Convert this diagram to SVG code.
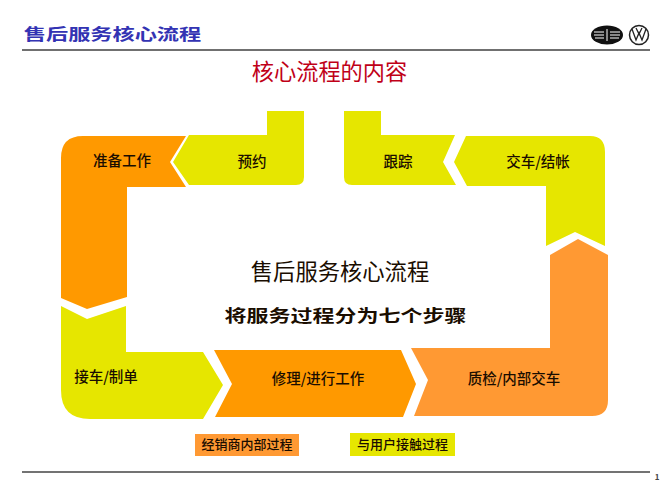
<svg xmlns="http://www.w3.org/2000/svg" width="667" height="500" viewBox="0 0 667 500">
<style>
text{font-family:"Noto Sans CJK SC","Liberation Sans",sans-serif;text-anchor:middle;fill:#1a0d00}
.lbl{font-size:14.500px;font-weight:500}
.leg{font-size:13px;font-weight:500}
.y{fill:#e6e600}.o{fill:#ff9900}.l{fill:#ff9933}
.logo{stroke:#fff;stroke-width:1;fill:none}
</style>
<rect width="667" height="500" fill="#fff"/>
<g id="header">
<text transform="translate(112.500 40) scale(1 .72)" font-size="22.200" font-weight="700" style="fill:#3333b3">售后服务核心流程</text>
<line x1="22" y1="50" x2="650" y2="50" stroke="#707070" stroke-width="2"/>
<ellipse cx="607" cy="35" rx="16" ry="9.500" fill="#111"/>
<path class="logo" d="M594 32h10M594 35h10M595 38h9M610 32h10M610 35h10M610 38h9M607 29v12"/>
<circle cx="639" cy="35" r="9.500" fill="#fff" stroke="#222" stroke-width="1.500"/>
<path d="M632 29l4 11 3-7 3 7 4-11M636 28l3 6 3-6" fill="none" stroke="#222" stroke-width="1.300"/>
<text x="329.500" y="80" font-size="22.200" style="fill:#c00018">核心流程的内容</text>
</g>
<g id="connectors"/>
<g id="step-prep">
<path class="o" d="M186 136H83Q61 136 61 158V298L87 309L127 297V187L186 187L170 162Z"/>
<text class="lbl" x="122" y="166">准备工作</text>
</g>
<g id="step-booking">
<path class="y" d="M267 111H304V177Q304 185 296 185H189L173 162L189 135H267Z"/>
<text class="lbl" x="252" y="167">预约</text>
</g>
<g id="step-followup">
<path class="y" d="M344 111H381V135H455L443 162L456 185H352Q344 185 344 177Z"/>
<text class="lbl" x="398" y="167">跟踪</text>
</g>
<g id="step-delivery">
<path class="y" d="M466 136H590Q605 136 605 152V246L575 232L546 246V186H467L454 162Z"/>
<text class="lbl" x="538" y="167">交车/结帐</text>
</g>
<g id="step-check">
<path class="l" d="M578 239L608 255V400Q608 416 592 416H414L428 380L411 348H550V255Z"/>
<text class="lbl" x="514" y="384">质检/内部交车</text>
</g>
<g id="step-repair">
<path class="o" d="M214 350H401L416 384L403 417H215L232 384Z"/>
<text class="lbl" x="318" y="384">修理/进行工作</text>
</g>
<g id="step-reception">
<path class="y" d="M61 306L87 319L126 306V352H203L223 385L203 419H90Q61 419 61 390Z"/>
<text class="lbl" x="106" y="382">接车/制单</text>
</g>
<g id="center">
<text x="340" y="280" font-size="22.300">售后服务核心流程</text>
<text transform="translate(345.500 322) scale(1 .75)" font-size="22" font-weight="700">将服务过程分为七个步骤</text>
</g>
<g id="legend-internal">
<rect class="l" x="195" y="434" width="104" height="22"/>
<text class="leg" x="247" y="449">经销商内部过程</text>
</g>
<g id="legend-customer">
<rect class="y" x="350" y="433" width="105" height="23"/>
<text class="leg" x="402.500" y="449">与用户接触过程</text>
</g>
<g id="footer">
<line x1="22" y1="472" x2="650" y2="472" stroke="#444" stroke-width="1.400"/>
<text x="657" y="480" font-size="8" font-weight="700" style="fill:#444">1</text>
</g>
</svg>
